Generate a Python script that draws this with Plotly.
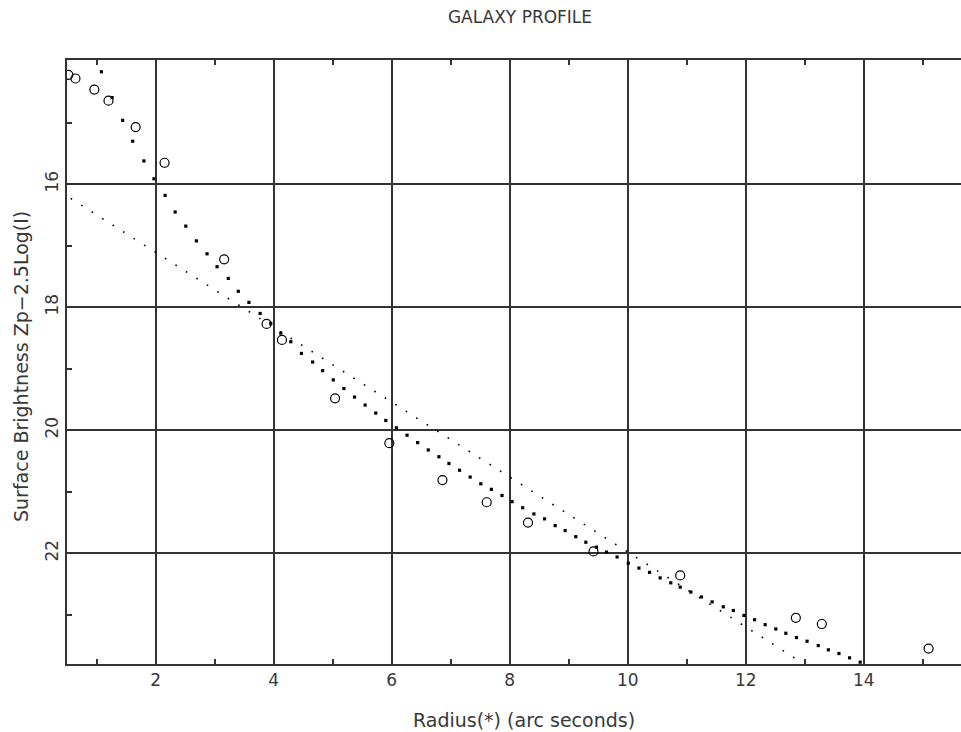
import plotly.graph_objects as go

# Observed profile (open circles)
obs_radius = [0.52, 0.64, 0.96, 1.20, 1.66, 2.15, 3.16, 3.88, 4.14, 5.04, 5.96,
              6.86, 7.61, 8.31, 9.42, 10.89, 12.85, 13.29, 15.10]
obs_mag = [14.22, 14.28, 14.46, 14.64, 15.07, 15.65, 17.22, 18.27, 18.53, 19.48, 20.21,
           20.81, 21.17, 21.50, 21.97, 22.36, 23.05, 23.15, 23.55]

# Fitted model profile (dotted curve)
model_radius = [1.08, 1.26, 1.44, 1.61, 1.80, 1.97, 2.16, 2.33, 2.51, 2.69, 2.87, 3.04, 3.23,
                3.40, 3.58, 3.77, 3.95, 4.12, 4.29,
                4.47, 4.66, 4.83, 5.01, 5.19, 5.37, 5.55, 5.73, 5.90, 6.08, 6.26, 6.44, 6.62,
                6.80, 6.97, 7.15, 7.33, 7.51, 7.69, 7.87, 8.04, 8.22, 8.41, 8.59, 8.77,
                8.94, 9.12, 9.29, 9.47, 9.64, 9.82, 10.01,
                10.19, 10.37, 10.55, 10.73, 10.89, 11.07, 11.25, 11.43, 11.62, 11.79, 11.97,
                12.15, 12.33, 12.51, 12.68, 12.86, 13.04, 13.23, 13.40, 13.58, 13.76, 13.94]
model_mag = [14.17, 14.59, 14.96, 15.30, 15.62, 15.91, 16.18, 16.45, 16.68, 16.92, 17.13, 17.34, 17.53,
             17.74, 17.92, 18.10, 18.26, 18.42, 18.56,
             18.75, 18.89, 19.03, 19.18, 19.32, 19.46, 19.59, 19.72, 19.84, 19.96, 20.08, 20.20, 20.32,
             20.43, 20.54, 20.65, 20.76, 20.87, 20.96, 21.06, 21.16, 21.26, 21.36, 21.44, 21.55,
             21.63, 21.73, 21.82, 21.90, 21.98, 22.06, 22.16,
             22.24, 22.31, 22.40, 22.48, 22.55, 22.63, 22.71, 22.79, 22.87, 22.93, 23.01,
             23.08, 23.16, 23.23, 23.30, 23.37, 23.43, 23.50, 23.57, 23.63, 23.70, 23.77]

# Exponential disk fit (straight dotted line)
disk_radius = [0.56, 12.86]
disk_mag = [16.23, 23.72]

x_major = [2, 4, 6, 8, 10, 12, 14]
y_major = [16, 18, 20, 22]

FONT = "DejaVu Sans"
INK = "#383838"
GRID = "#333333"

fig = go.Figure()

fig.add_trace(go.Scatter(
    x=disk_radius, y=disk_mag, mode="lines",
    line=dict(color="black", width=1.6, dash="1.6px,10.8px"),
    hoverinfo="skip", showlegend=False))

fig.add_trace(go.Scatter(
    x=model_radius, y=model_mag, mode="markers",
    marker=dict(symbol="square", size=3.2, color="black", line=dict(width=0)),
    showlegend=False))

fig.add_trace(go.Scatter(
    x=obs_radius, y=obs_mag, mode="markers",
    marker=dict(symbol="circle-open", size=9, color="black", line=dict(width=1.2)),
    showlegend=False))

fig.update_layout(
    width=961, height=732,
    margin=dict(l=67, r=0, t=60, b=68, autoexpand=False),
    paper_bgcolor="white", plot_bgcolor="white",
    font=dict(family=FONT, size=17, color=INK),
    title=dict(text="GALAXY PROFILE", x=520 / 961, xanchor="center", y=1 - 17 / 732, yanchor="middle",
               font=dict(family=FONT, size=17, color=INK)),
    showlegend=False,
    annotations=[
        dict(text="Radius(*) (arc seconds)", xref="paper", yref="paper",
             x=(524 - 67) / 894, y=-(720 - 664) / 604, xanchor="center", yanchor="middle",
             showarrow=False, font=dict(family=FONT, size=19, color=INK)),
        dict(text="Surface Brightness Zp\u22122.5Log(I)", xref="paper", yref="paper",
             x=-(67 - 21) / 894, y=(664 - 367) / 604, xanchor="center", yanchor="middle",
             textangle=-90, showarrow=False, font=dict(family=FONT, size=19, color=INK)),
    ],
)

fig.update_xaxes(
    range=[0.4966, 15.649],
    tickmode="array", tickvals=x_major, ticktext=[str(v) for v in x_major],
    ticks="", showgrid=True, gridcolor=GRID, gridwidth=1.5,
    showline=True, linecolor=GRID, linewidth=1.5, mirror="ticks",
    zeroline=False, automargin=False,
    minor=dict(tickvals=[1, 3, 5, 7, 9, 11, 13, 15], ticks="inside", ticklen=5,
               tickcolor=GRID, tickwidth=1.5, showgrid=False),
    tickfont=dict(family=FONT, size=17, color=INK),
)

fig.update_yaxes(
    range=[23.80, 13.979],
    tickmode="array", tickvals=y_major, ticktext=[str(v) for v in y_major],
    tickangle=-90,
    ticks="", showgrid=True, gridcolor=GRID, gridwidth=1.5,
    showline=True, linecolor=GRID, linewidth=1.5, mirror=False,
    zeroline=False, automargin=False,
    minor=dict(tickvals=[15, 17, 19, 21, 23], ticks="inside", ticklen=5,
               tickcolor=GRID, tickwidth=1.5, showgrid=False),
    tickfont=dict(family=FONT, size=17, color=INK),
)

fig.write_html("out.html", config={"displayModeBar": False},
               post_script="document.body.style.margin='0px';")
